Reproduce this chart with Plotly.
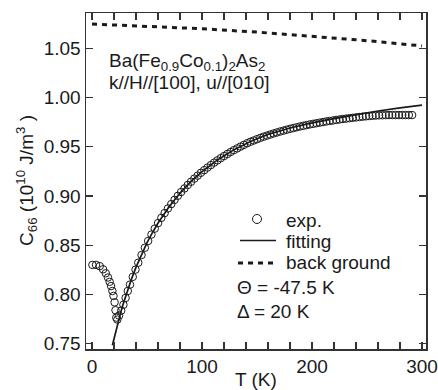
import plotly.graph_objects as go

# ---------------- data ----------------
exp_T = [0.3, 3.6, 7.0, 10.0, 12.5, 14.5, 16.0, 17.3, 18.5, 19.5, 20.5, 21.3, 22.0, 23.0,
         24.5, 26.5, 28.5, 30.5, 32.5, 34.5, 37.0, 39.5, 42.0, 45.0, 48.0, 51.0, 54.0, 57.0,
         60, 63, 66, 69, 72, 75, 78, 81, 84, 87, 90, 93, 96, 99, 102, 105, 108, 111, 114,
         117, 120, 123, 126, 129, 132, 135, 138, 141, 144, 147, 150, 153, 156, 159, 162,
         165, 168, 171, 174, 177, 180, 183, 186, 189, 192, 195, 198, 201, 204, 207, 210,
         213, 216, 219, 222, 225, 228, 231, 234, 237, 240, 243, 246, 249, 252, 255, 258,
         261, 264, 267, 270, 273, 276, 279, 282, 285, 288, 291]
exp_C66 = [0.8300, 0.8300, 0.8287, 0.8255, 0.8215, 0.8172, 0.8128, 0.8085, 0.8035, 0.7985,
           0.7920, 0.7840, 0.7765, 0.7745, 0.7785, 0.7835, 0.7895, 0.7965, 0.8035, 0.8100,
           0.8178, 0.8252, 0.8322, 0.8400, 0.8474, 0.8543, 0.8608, 0.8668, 0.8724, 0.8777,
           0.8826, 0.8873, 0.8917, 0.8960, 0.9001, 0.9040, 0.9076, 0.9111, 0.9144, 0.9176,
           0.9206, 0.9235, 0.9262, 0.9288, 0.9313, 0.9338, 0.9361, 0.9384, 0.9405, 0.9426,
           0.9446, 0.9465, 0.9483, 0.9501, 0.9518, 0.9535, 0.9550, 0.9563, 0.9576, 0.9589,
           0.9601, 0.9612, 0.9623, 0.9634, 0.9644, 0.9654, 0.9663, 0.9672, 0.9681, 0.9689,
           0.9697, 0.9705, 0.9712, 0.9719, 0.9726, 0.9732, 0.9738, 0.9744, 0.9750, 0.9756,
           0.9761, 0.9766, 0.9771, 0.9776, 0.9781, 0.9785, 0.9789, 0.9793, 0.9797, 0.9801,
           0.9805, 0.9808, 0.9811, 0.9814, 0.9816, 0.9818, 0.9819, 0.9820, 0.9821, 0.9821,
           0.9821, 0.9821, 0.9821, 0.9821, 0.9821, 0.9821]

fit_T = [18.5, 20, 22, 24, 26, 28, 30, 33, 36, 40, 45, 50, 55, 60, 70, 80, 90, 100, 115,
         130, 145, 160, 180, 200, 220, 240, 260, 280, 300]
fit_C66 = [0.7484, 0.7556, 0.7647, 0.7734, 0.7814, 0.7892, 0.7965, 0.8066, 0.8161, 0.8277,
           0.8408, 0.8525, 0.8629, 0.8725, 0.8889, 0.9029, 0.9147, 0.9246, 0.9373, 0.9475,
           0.9557, 0.9625, 0.9690, 0.9742, 0.9785, 0.9825, 0.9862, 0.9893, 0.9922]

bg_T = [0, 50, 100, 150, 200, 250, 300]
bg_C66 = [1.0745, 1.0724, 1.0697, 1.0663, 1.0623, 1.0576, 1.0523]

x_ticks = list(range(0, 301, 20))
x_labels = [str(v) if v % 100 == 0 else "" for v in x_ticks]
y_ticks = [0.75, 0.80, 0.85, 0.90, 0.95, 1.00, 1.05]
y_labels = ["0.75", "0.80", "0.85", "0.90", "0.95", "1.00", "1.05"]

legend_labels = ["exp.", "fitting", "back ground"]
param_labels = ["Θ = -47.5 K", "Δ = 20 K"]

FONT = "Liberation Sans, Arial, sans-serif"
INK = "#1a1a1a"
FS = 19

# plot area in pixels
L, R, T, B = 86, 426, 13, 349
W, H = 438, 390


def px(x):
    return (x - L) / (R - L)


def py(y):
    return (B - y) / (B - T)


fig = go.Figure()
fig.add_trace(go.Scatter(
    x=exp_T, y=exp_C66, mode="markers", name=legend_labels[0],
    marker=dict(symbol="circle-open", size=7.5, color=INK, line=dict(width=1, color=INK)),
))
fig.add_trace(go.Scatter(
    x=fit_T, y=fit_C66, mode="lines", name=legend_labels[1],
    line=dict(color=INK, width=1.7),
))
fig.add_trace(go.Scatter(
    x=bg_T, y=bg_C66, mode="lines", name=legend_labels[2],
    line=dict(color=INK, width=3, dash="5px,5px"),
))

axis_common = dict(
    showline=True, linecolor="#333333", linewidth=1.5, mirror="ticks",
    ticks="inside", ticklen=7, tickwidth=1.3, tickcolor="#333333",
    showgrid=False, zeroline=False, automargin=False,
    tickfont=dict(family=FONT, size=FS, color=INK),
)

fig.update_xaxes(range=[-5.5, 303.6], tickmode="array", tickvals=x_ticks,
                 ticktext=x_labels, **axis_common)
fig.update_yaxes(range=[0.7446, 1.0857], tickmode="array", tickvals=y_ticks,
                 ticktext=y_labels, **axis_common)

font = dict(family=FONT, size=FS, color=INK)
anns = [
    dict(text="Ba(Fe<sub>0.9</sub>Co<sub>0.1</sub>)<sub>2</sub>As<sub>2</sub>",
         x=px(107), y=py(62), xanchor="left"),
    dict(text="k//H//[100], u//[010]", x=px(107), y=py(82), xanchor="left"),
    dict(text=legend_labels[0], x=px(284), y=py(220), xanchor="left"),
    dict(text=legend_labels[1], x=px(284), y=py(241), xanchor="left"),
    dict(text=legend_labels[2], x=px(284), y=py(262), xanchor="left"),
    dict(text=param_labels[0], x=px(235), y=py(287), xanchor="left"),
    dict(text=param_labels[1], x=px(235), y=py(311), xanchor="left"),
    dict(text="T (K)", x=px(256), y=py(380), xanchor="center"),
    dict(text="C<sub>66</sub> (10<sup>10</sup> J/m<sup>3</sup> )", x=px(26), y=py(180),
         xanchor="center", textangle=-90),
]
for a in anns:
    fig.add_annotation(xref="paper", yref="paper", yanchor="middle",
                       showarrow=False, font=font, **a)

# legend glyphs
fig.add_shape(type="circle", xref="paper", yref="paper",
              x0=px(252.5), x1=px(261.5), y0=py(223.5), y1=py(214.5),
              line=dict(color=INK, width=1))
fig.add_shape(type="line", xref="paper", yref="paper",
              x0=px(240), x1=px(276), y0=py(240.5), y1=py(240.5),
              line=dict(color=INK, width=1.7))
fig.add_shape(type="line", xref="paper", yref="paper",
              x0=px(238), x1=px(278), y0=py(263), y1=py(263),
              line=dict(color=INK, width=3, dash="5px,5px"))

fig.update_layout(
    width=W, height=H,
    margin=dict(l=L, r=W - R, t=T, b=H - B, autoexpand=False),
    paper_bgcolor="white", plot_bgcolor="white",
    showlegend=False,
)

fig.write_html(
    "out.html",
    config={"displayModeBar": False, "staticPlot": True},
    post_script="document.body.style.margin='0';document.body.style.overflow='hidden';",
)
